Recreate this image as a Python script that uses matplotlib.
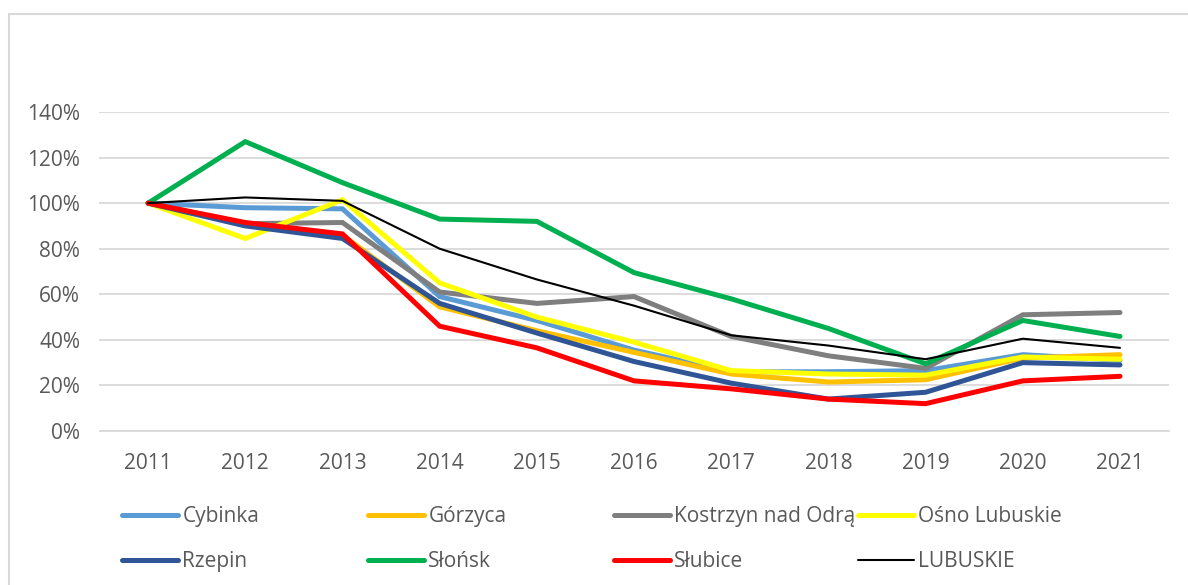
import matplotlib
matplotlib.use("Agg")
import matplotlib.pyplot as plt
from matplotlib.patches import Rectangle
from matplotlib.ticker import PercentFormatter

years = [str(y) for y in range(2011, 2022)]

cybinka = [100, 98, 97.5, 59, 48.5, 35.5, 26, 26, 26.5, 33.5, 31]
gorzyca = [100, 91, 86, 54.5, 44, 34.5, 25, 21.5, 22.5, 32, 33.5]
kostrzyn = [100, 91, 91.5, 61, 56, 59, 41.5, 33, 27.5, 51, 52]
osno = [100, 84.5, 101.5, 65, 50, 39, 26.5, 25, 24.5, 32.5, 31.5]
rzepin = [100, 90, 84.5, 56, 43, 30.5, 21, 14, 17, 30, 29]
slonsk = [100, 127, 109, 93, 92, 69.5, 58, 45, 29.5, 48.5, 41.5]
slubice = [100, 91.5, 86.5, 46, 36.5, 22, 18.5, 14, 12, 22, 24]
lubuskie = [100, 102.5, 101, 80, 66.5, 55, 42, 37.5, 31.5, 40.5, 36.5]

names = ["Cybinka", "Górzyca", "Kostrzyn nad Odrą", "Ośno Lubuskie",
         "Rzepin", "Słońsk", "Słubice", "LUBUSKIE"]
series = [cybinka, gorzyca, kostrzyn, osno, rzepin, slonsk, slubice, lubuskie]
colors = ["#5B9BD5", "#FFC000", "#7F7F7F", "#FFFF00",
          "#2F5597", "#00B050", "#FF0000", "#000000"]
widths = [3.6, 3.6, 3.6, 3.6, 3.6, 3.6, 3.6, 1.5]

plt.rcParams["font.family"] = ["Open Sans", "DejaVu Sans"]
txt = "#595959"
fs = 15

fig = plt.figure(figsize=(11.88, 5.85), dpi=100)
ax = fig.add_axes([99.5 / 1188, 1 - 431 / 585, (1168.6 - 99.5) / 1188, (431 - 112) / 585])

lines = []
for vals, name, c, lw in zip(series, names, colors, widths):
    ln, = ax.plot(range(len(years)), [v / 100 for v in vals], color=c, lw=lw,
                  label=name, solid_capstyle="round", solid_joinstyle="miter")
    lines.append(ln)

ax.set_xlim(-0.5, len(years) - 0.5)
ax.set_ylim(0, 1.4)
ax.set_yticks([i * 0.2 for i in range(8)])
ax.yaxis.set_major_formatter(PercentFormatter(1.0, decimals=0))
ax.set_xticks(range(len(years)))
ax.set_xticklabels(years)
ax.grid(axis="y", color="#D9D9D9", lw=1.3)
ax.set_axisbelow(True)
for s in ["top", "right", "left"]:
    ax.spines[s].set_visible(False)
ax.spines["bottom"].set_color("#D9D9D9")
ax.spines["bottom"].set_linewidth(1.3)
ax.tick_params(axis="both", length=0, colors=txt, labelsize=fs)
ax.tick_params(axis="y", pad=14)
ax.tick_params(axis="x", pad=16)

# legend: 4 equally spaced columns, 2 rows
col_x = [122, 368, 614, 858]
for j in range(4):
    hs = [lines[j], lines[j + 4]]
    leg = fig.legend(hs, [names[j], names[j + 4]], loc="upper left",
                     bbox_to_anchor=(col_x[j] / 1188, 1 - 506 / 585),
                     frameon=False, fontsize=fs, handlelength=2.7,
                     handletextpad=0.2, labelspacing=1.15, borderpad=0,
                     borderaxespad=0)
    for t in leg.get_texts():
        t.set_color(txt)

fig.patches.append(Rectangle((9 / 1188, -0.05), 1.2, 1 - 14 / 585 + 0.05,
                             transform=fig.transFigure, fill=False,
                             edgecolor="#D9D9D9", lw=1.5))

fig.savefig("out.png", dpi=100, facecolor="white")
